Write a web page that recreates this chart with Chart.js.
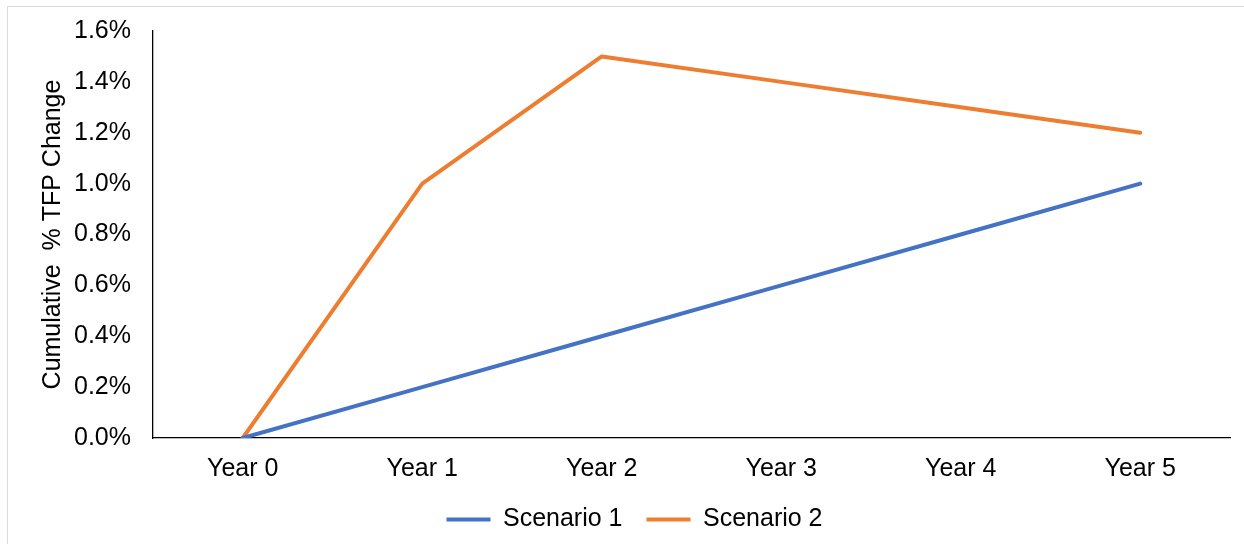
<!DOCTYPE html>
<html>
<head>
<meta charset="utf-8">
<script src="https://cdn.jsdelivr.net/npm/chart.js@4.4.1/dist/chart.umd.min.js"></script>
<style>
  html, body { margin: 0; padding: 0; background: #ffffff; }
  #frame { position: absolute; left: 7px; top: 6px; width: 1250px; height: 550px; border: 1px solid #d9d9d9; box-sizing: border-box; }
  #wrap { position: absolute; left: 0; top: 0; width: 1244px; height: 544px; }
</style>
</head>
<body>
<div id="frame"></div>
<div id="wrap"><canvas id="chart" width="1244" height="544"></canvas></div>
<script>
// Years since the start of the programme
const years = ['Year 0', 'Year 1', 'Year 2', 'Year 3', 'Year 4', 'Year 5'];
// Cumulative TFP change, in percent
const scenario1 = [0, 0.2, 0.4, 0.6, 0.8, 1.0];
const scenario2 = [0, 1.0, 1.5, 1.4, 1.3, 1.2];
const yMin = 0, yMax = 1.6, yStep = 0.2;

const FONT = "'Liberation Sans', Arial, sans-serif";
const TEXT = '#000000';

new Chart(document.getElementById('chart'), {
  type: 'line',
  data: {
    labels: years,
    datasets: [
      { label: 'Scenario 1', data: scenario1, borderColor: '#4472C4', backgroundColor: '#4472C4',
        borderWidth: 4, pointRadius: 0, tension: 0, borderCapStyle: 'round', borderJoinStyle: 'round' },
      { label: 'Scenario 2', data: scenario2, borderColor: '#ED7D31', backgroundColor: '#ED7D31',
        borderWidth: 4, pointRadius: 0, tension: 0, borderCapStyle: 'round', borderJoinStyle: 'round' }
    ]
  },
  options: {
    responsive: false,
    animation: false,
    layout: { padding: { left: 39, right: 14, top: 31, bottom: 2 } },
    plugins: {
      legend: {
        position: 'bottom',
        labels: {
          font: { family: FONT, size: 25 },
          color: TEXT,
          usePointStyle: true,
          pointStyle: 'line',
          pointStyleWidth: 44,
          padding: 24
        }
      },
      tooltip: { enabled: false }
    },
    scales: {
      x: {
        offset: true,
        grid: { display: true, drawOnChartArea: false, drawTicks: false },
        border: { display: true, color: '#000000', width: 1.3 },
        ticks: { font: { family: FONT, size: 25 }, color: TEXT, padding: 16, maxRotation: 0 },
        afterFit: (s) => { s.height = 45; }
      },
      y: {
        min: yMin, max: yMax,
        grid: { display: true, drawOnChartArea: false, drawTicks: false },
        border: { display: true, color: '#000000', width: 1.3 },
        ticks: {
          stepSize: yStep,
          font: { family: FONT, size: 25 }, color: TEXT, padding: 22,
          callback: (v) => v.toFixed(1) + '%'
        },
        title: {
          display: true,
          text: 'Cumulative  % TFP Change',
          font: { family: FONT, size: 25 }, color: TEXT,
          padding: { top: -1, bottom: 0 }
        },
        afterFit: (s) => {
          s.width = 114;
          // keep the tick-label gap from pushing the plot area down
          s.paddingTop = 0;
          s.paddingBottom = 0;
        }
      }
    }
  }
});
</script>
</body>
</html>
